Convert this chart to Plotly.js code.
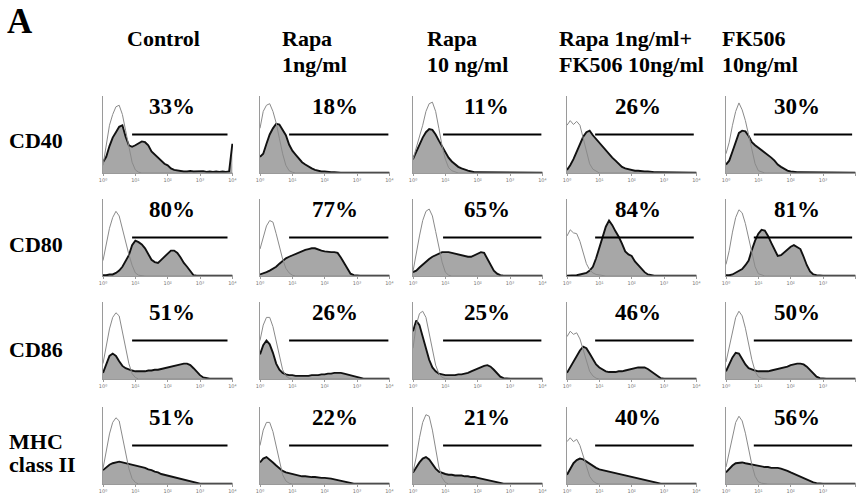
<!DOCTYPE html>
<html>
<head>
<meta charset="utf-8">
<script src="https://cdn.plot.ly/plotly-3.0.1.min.js"></script>
<style>
  html, body { margin: 0; padding: 0; background: #fff; }
  #fig { width: 857px; height: 495px; }
</style>
</head>
<body>
<div id="fig"></div>
<script>
// Fluorescence channel, in decades (10^0 .. 10^4)
const logBins = [0,0.1,0.2,0.3,0.4,0.5,0.6,0.7,0.8,0.9,1.0,1.1,1.2,1.3,1.4,1.5,1.6,1.7,1.8,1.9,2.0,
                 2.1,2.2,2.3,2.4,2.5,2.6,2.7,2.8,2.9,3.0,3.1,3.2,3.3,3.4,3.5,3.6,3.7,3.8,3.9,4.0];

// Column headers (two lines each) and row labels
const treatmentLine1 = ["Control", "Rapa", "Rapa", "Rapa 1ng/ml+", "FK506"];
const treatmentLine2 = ["", "1ng/ml", "10 ng/ml", "FK506 10ng/ml", "10ng/ml"];
const markerLine1 = ["CD40", "CD80", "CD86", "MHC"];
const markerLine2 = ["", "", "", "class II"];
const tickLabels = ["10⁰", "10¹", "10²", "10³", "10⁴"];

// % positive cells above the gate
const cd40Pct = [33, 18, 11, 26, 30];
const cd80Pct = [80, 77, 65, 84, 81];
const cd86Pct = [51, 26, 25, 46, 50];
const mhcPct  = [51, 22, 21, 40, 56];

// Gate marker, decades
const gateStart = [0.9, 0.9, 0.93, 0.87, 0.86];
const gateEnd   = [3.85, 3.97, 3.97, 3.92, 3.9];
const gateLevel = 50;

// ---- CD40: stained (filled) and isotype control (open) counts, % of axis height
const cd40Ctrl   = [14,21,35,46,53,60,62,47,36,34,36,38,41,40,36,28,24,20,17,12,10,6,4,3,3,2,2,2.5,2,2,2,2.5,1.5,2,1.5,2,1.5,2,1.5,2,38];
const cd40CtrlIso= [10,38,62,76,86,88,76,55,32,14,4,1,0,0,0,0,0,0,0,0,0,0,0,0,0,0,0,0,0,0,0,0,0,0,0,0,0,0,0,0,0];
const cd40Rapa1  = [21,25,38,50,58,64,63,55,49,37,29,24,19,14,11,8,6,4,3,2,2,1,1,1,0.5,0.5,0.5,0.5,0.5,0.5,0.5,0.5,0.5,0.5,0.5,0.5,0.5,0.5,0.5,0.5,0.5];
const cd40Rapa1Iso=[58,80,88,90,80,65,45,25,10,3,1,0,0,0,0,0,0,0,0,0,0,0,0,0,0,0,0,0,0,0,0,0,0,0,0,0,0,0,0,0,0];
const cd40Rapa10 = [18,28,38,46,53,57,56,50,42,34,27,20,15,11,8,6,4,3,2,1,1,1,0.5,0.5,0.5,0.5,0.5,0.5,0.5,0.5,0.5,0.5,0.5,0.5,0.5,0.5,0.5,0.5,0.5,0.5,0.5];
const cd40Rapa10Iso=[18,32,45,62,80,90,92,80,58,35,18,7,3,1,0,0,0,0,0,0,0,0,0,0,0,0,0,0,0,0,0,0,0,0,0,0,0,0,0,0,0];
const cd40Combo  = [4,10,18,28,38,47,53,55,49,44,40,35,29,24,20,16,12,8,6,5,4,3,3,2,2,2,1,1,1,1,1,1,1,0.5,0.5,0.5,0.5,0.5,0.5,0.5,0.5];
const cd40ComboIso=[62,68,63,67,62,45,30,12,5,2,0,0,0,0,0,0,0,0,0,0,0,0,0,0,0,0,0,0,0,0,0,0,0,0,0,0,0,0,0,0,0];
const cd40Fk     = [11,16,28,40,52,55,54,48,40,36,33,30,27,23,20,16,11,8,5,3,2,1,1,1,1,0.5,0.5,0.5,0.5,0.5,0.5,0.5,0.5,0.5,0.5,0.5,0.5,0.5,0.5,0.5,0.5];
const cd40FkIso  = [25,40,62,80,91,82,68,48,28,12,3,1,0,0,0,0,0,0,0,0,0,0,0,0,0,0,0,0,0,0,0,0,0,0,0,0,0,0,0,0,0];

// ---- CD80
const cd80Ctrl   = [1,1,2,2,4,7,12,20,27,40,46,44,41,36,29,21,18,17,21,25,29,33,33,30,24,17,12,6,1,0.5,0.5,0.5,0.5,0.5,0.5,0.5,0.5,0.5,0.5,0.5,0.5];
const cd80CtrlIso= [20,40,62,76,84,78,60,44,28,14,4,1,0,0,0,0,0,0,0,0,0,0,0,0,0,0,0,0,0,0,0,0,0,0,0,0,0,0,0,0,0];
const cd80Rapa1  = [2,3,5,7,9,12,16,20,23,25,27,29,31,32,34,35,36,36,34,33,32,31,31,31,30,24,17,9,3,1,0.5,0.5,0.5,0.5,0.5,0.5,0.5,0.5,0.5,0.5,0.5];
const cd80Rapa1Iso=[35,52,65,72,70,55,38,22,10,4,1,0,0,0,0,0,0,0,0,0,0,0,0,0,0,0,0,0,0,0,0,0,0,0,0,0,0,0,0,0,0];
const cd80Rapa10 = [5,7,11,15,19,22,25,27,29,31,31,31,30,29,28,27,26,25,25,27,29,31,30,22,14,7,3,1,0.5,0.5,0.5,0.5,0.5,0.5,0.5,0.5,0.5,0.5,0.5,0.5,0.5];
const cd80Rapa10Iso=[6,30,52,72,84,87,78,58,38,18,5,1,0,0,0,0,0,0,0,0,0,0,0,0,0,0,0,0,0,0,0,0,0,0,0,0,0,0,0,0,0];
const cd80Combo  = [0.5,0.5,1,1,2,3,4,7,12,23,37,50,64,72,66,58,51,42,32,28,26,19,14,10,5,2,1,0.5,0.5,0.5,0.5,0.5,0.5,0.5,0.5,0.5,0.5,0.5,0.5,0.5,0.5];
const cd80ComboIso=[52,60,56,55,45,30,16,8,4,2,1,0,0,0,0,0,0,0,0,0,0,0,0,0,0,0,0,0,0,0,0,0,0,0,0,0,0,0,0,0,0];
const cd80Fk     = [1,1,2,4,7,9,14,20,34,46,55,60,59,52,43,34,26,27,31,35,38,40,38,35,25,14,6,2,1,0.5,0.5,0.5,0.5,0.5,0.5,0.5,0.5,0.5,0.5,0.5,0.5];
const cd80FkIso  = [15,33,57,76,86,82,68,48,30,12,3,1,0,0,0,0,0,0,0,0,0,0,0,0,0,0,0,0,0,0,0,0,0,0,0,0,0,0,0,0,0];

// ---- CD86
const cd86Ctrl   = [8,20,30,33,30,23,17,14,12,11,10,10,10,10,11,11,12,12,13,14,15,16,17,18,19,20,20,18,14,9,5,2,1,0.5,0.5,0.5,0.5,0.5,0.5,0.5,0.5];
const cd86CtrlIso= [20,45,65,80,86,82,62,40,20,7,2,0,0,0,0,0,0,0,0,0,0,0,0,0,0,0,0,0,0,0,0,0,0,0,0,0,0,0,0,0,0];
const cd86Rapa1  = [32,44,50,45,34,20,12,8,6,5,5,4,4,4,4,4,5,5,5,6,6,7,7,8,8,8,7,6,5,3,2,1,0.5,0.5,0.5,0.5,0.5,0.5,0.5,0.5,0.5];
const cd86Rapa1Iso=[50,70,80,80,68,48,28,12,4,1,0,0,0,0,0,0,0,0,0,0,0,0,0,0,0,0,0,0,0,0,0,0,0,0,0,0,0,0,0,0,0];
const cd86Rapa10 = [62,76,70,55,40,25,15,10,7,6,5,5,5,5,6,6,7,8,10,12,14,16,17,18,16,12,7,3,1,0.5,0.5,0.5,0.5,0.5,0.5,0.5,0.5,0.5,0.5,0.5,0.5];
const cd86Rapa10Iso=[40,70,85,88,80,60,38,18,7,2,0.5,0,0,0,0,0,0,0,0,0,0,0,0,0,0,0,0,0,0,0,0,0,0,0,0,0,0,0,0,0,0];
const cd86Combo  = [8,15,22,30,37,42,40,33,25,19,15,12,10,9,9,9,10,10,11,12,13,14,15,15,15,13,10,6,3,1,0.5,0.5,0.5,0.5,0.5,0.5,0.5,0.5,0.5,0.5,0.5];
const cd86ComboIso=[55,62,58,60,52,38,22,10,4,1,0,0,0,0,0,0,0,0,0,0,0,0,0,0,0,0,0,0,0,0,0,0,0,0,0,0,0,0,0,0,0];
const cd86Fk     = [10,20,28,34,33,26,19,14,12,11,10,10,10,10,11,12,13,14,15,16,18,19,20,20,19,16,12,7,3,1,0.5,0.5,0.5,0.5,0.5,0.5,0.5,0.5,0.5,0.5,0.5];
const cd86FkIso  = [22,42,62,80,88,82,66,45,25,10,3,1,0,0,0,0,0,0,0,0,0,0,0,0,0,0,0,0,0,0,0,0,0,0,0,0,0,0,0,0,0];

// ---- MHC class II
const mhcCtrl    = [18,22,25,27,28,29,28,27,26,25,24,23,22,21,19,18,16,15,13,12,10,9,8,7,6,5,4,3,2,1,0.5,0.5,0.5,0.5,0.5,0.5,0.5,0.5,0.5,0.5,0.5];
const mhcCtrlIso = [20,45,65,80,86,82,62,40,20,7,2,0,0,0,0,0,0,0,0,0,0,0,0,0,0,0,0,0,0,0,0,0,0,0,0,0,0,0,0,0,0];
const mhcRapa1   = [28,33,35,32,28,24,20,17,15,14,13,12,11,10,10,9,9,9,8,8,8,7,7,6,5,4,3,2,1,0.5,0.5,0.5,0.5,0.5,0.5,0.5,0.5,0.5,0.5,0.5,0.5];
const mhcRapa1Iso= [50,70,80,80,68,48,28,12,4,1,0,0,0,0,0,0,0,0,0,0,0,0,0,0,0,0,0,0,0,0,0,0,0,0,0,0,0,0,0,0,0];
const mhcRapa10  = [15,22,28,33,35,32,26,20,16,14,13,12,12,11,11,11,10,10,9,9,8,7,6,5,4,3,2,1,0.5,0.5,0.5,0.5,0.5,0.5,0.5,0.5,0.5,0.5,0.5,0.5,0.5];
const mhcRapa10Iso=[15,35,60,80,90,88,70,45,22,8,2,0,0,0,0,0,0,0,0,0,0,0,0,0,0,0,0,0,0,0,0,0,0,0,0,0,0,0,0,0,0];
const mhcCombo   = [12,20,27,31,33,32,29,26,23,21,19,18,17,16,15,14,13,12,11,10,9,8,7,6,5,4,3,2,1,0.5,0.5,0.5,0.5,0.5,0.5,0.5,0.5,0.5,0.5,0.5,0.5];
const mhcComboIso= [55,60,55,58,50,36,22,10,4,1,0,0,0,0,0,0,0,0,0,0,0,0,0,0,0,0,0,0,0,0,0,0,0,0,0,0,0,0,0,0,0];
const mhcFk      = [15,20,24,27,28,28,27,26,25,24,23,22,22,22,21,21,21,20,19,17,15,13,11,9,7,5,3,2,1,0.5,0.5,0.5,0.5,0.5,0.5,0.5,0.5,0.5,0.5,0.5,0.5];
const mhcFkIso   = [22,42,62,80,88,82,66,45,25,10,3,1,0,0,0,0,0,0,0,0,0,0,0,0,0,0,0,0,0,0,0,0,0,0,0,0,0,0,0,0,0];

const stainedRows = [
  [cd40Ctrl, cd40Rapa1, cd40Rapa10, cd40Combo, cd40Fk],
  [cd80Ctrl, cd80Rapa1, cd80Rapa10, cd80Combo, cd80Fk],
  [cd86Ctrl, cd86Rapa1, cd86Rapa10, cd86Combo, cd86Fk],
  [mhcCtrl,  mhcRapa1,  mhcRapa10,  mhcCombo,  mhcFk]
];
const isoRows = [
  [cd40CtrlIso, cd40Rapa1Iso, cd40Rapa10Iso, cd40ComboIso, cd40FkIso],
  [cd80CtrlIso, cd80Rapa1Iso, cd80Rapa10Iso, cd80ComboIso, cd80FkIso],
  [cd86CtrlIso, cd86Rapa1Iso, cd86Rapa10Iso, cd86ComboIso, cd86FkIso],
  [mhcCtrlIso,  mhcRapa1Iso,  mhcRapa10Iso,  mhcComboIso,  mhcFkIso]
];
const pctRows = [cd40Pct, cd80Pct, cd86Pct, mhcPct];

// ---- panel geometry (pixels in the 857 x 495 figure)
const W = 857, H = 495;
const colLeft = [103, 260, 413, 567, 726];
const colWidth = 130;
const rowBase = [173, 276, 379, 484];
const panelH = 77;
const pctX = [2.14, 2.33, 2.28, 2.18, 2.18];

const serif = "Liberation Serif";
const traces = [];
const shapes = [];
const annotations = [];
const layout = {
  width: W, height: H,
  margin: {l: 0, r: 0, t: 0, b: 0},
  paper_bgcolor: "#ffffff",
  plot_bgcolor: "rgba(0,0,0,0)",
  showlegend: false,
  font: {family: serif, color: "#000"}
};

function label(text, px, py, size) {
  annotations.push({
    xref: "paper", yref: "paper", x: px / W, y: (H - py) / H,
    text: "<b>" + text + "</b>", showarrow: false,
    xanchor: "left", yanchor: "middle",
    font: {family: serif, size: size, color: "#000"}
  });
}

let n = 0;
for (let r = 0; r < 4; r++) {
  for (let c = 0; c < 5; c++) {
    n++;
    const xa = n === 1 ? "x" : "x" + n;
    const ya = n === 1 ? "y" : "y" + n;
    const xKey = n === 1 ? "xaxis" : "xaxis" + n;
    const yKey = n === 1 ? "yaxis" : "yaxis" + n;

    layout[xKey] = {
      domain: [colLeft[c] / W, (colLeft[c] + colWidth) / W],
      anchor: ya, range: [0, 4.02],
      showline: true, linecolor: "#9a9a9a", linewidth: 1,
      showgrid: false, zeroline: false,
      tickvals: [0, 1, 2, 3, 4], ticktext: tickLabels,
      ticks: "outside", ticklen: 2, tickcolor: "#9a9a9a",
      tickfont: {size: 5, color: "#777", family: "DejaVu Sans"},
      fixedrange: true
    };
    layout[yKey] = {
      domain: [(H - rowBase[r]) / H, (H - rowBase[r] + panelH) / H],
      anchor: xa, range: [0, 100],
      showline: true, linecolor: "#9a9a9a", linewidth: 1,
      showgrid: false, zeroline: false, showticklabels: false, ticks: "",
      fixedrange: true
    };

    traces.push({
      type: "scatter", mode: "lines", x: logBins, y: stainedRows[r][c],
      xaxis: xa, yaxis: ya, fill: "tozeroy", fillcolor: "#a7a7a7",
      line: {color: "#111", width: 1.9}, hoverinfo: "skip"
    });
    traces.push({
      type: "scatter", mode: "lines", x: logBins, y: isoRows[r][c],
      xaxis: xa, yaxis: ya,
      line: {color: "#8a8a8a", width: 1}, hoverinfo: "skip"
    });

    shapes.push({
      type: "line", xref: xa, yref: ya,
      x0: gateStart[c], x1: gateEnd[c], y0: gateLevel, y1: gateLevel,
      line: {color: "#000", width: 2}
    });

    annotations.push({
      xref: xa, yref: ya, x: pctX[c], y: 87,
      text: "<b>" + pctRows[r][c] + "%</b>", showarrow: false,
      xanchor: "center", yanchor: "middle",
      font: {family: serif, size: 23, color: "#000"}
    });
  }
}

// column headers
const headerX = [125, 280, 425, 557, 720];
headerX.forEach((x, c) => {
  label(treatmentLine1[c], x, 39, 22);
  if (treatmentLine2[c]) label(treatmentLine2[c], x, 65, 22);
});

// row labels
const rowLabelY = [140, 245, 349, 441];
rowLabelY.forEach((y, r) => {
  label(markerLine1[r], 7, y, 22);
  if (markerLine2[r]) label(markerLine2[r], 7, y + 23, 22);
});

// panel letter
annotations.push({
  xref: "paper", yref: "paper", x: 5 / W, y: (H - 0) / H,
  text: "<b>A</b>", showarrow: false, xanchor: "left", yanchor: "top",
  font: {family: serif, size: 35, color: "#000"}
});

layout.shapes = shapes;
layout.annotations = annotations;

Plotly.newPlot("fig", traces, layout, {staticPlot: true, displayModeBar: false});
</script>
</body>
</html>
